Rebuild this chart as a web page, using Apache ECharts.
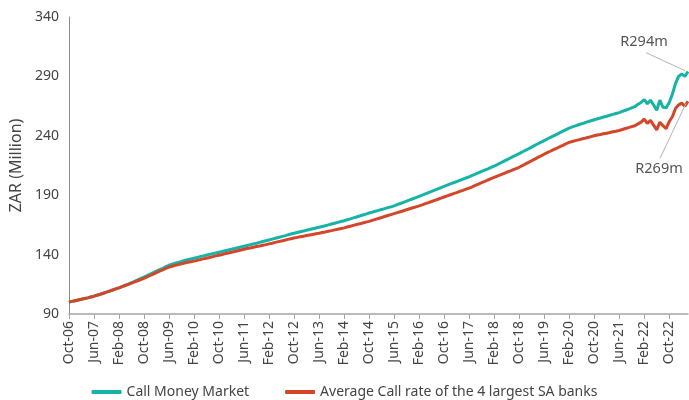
<!DOCTYPE html>
<html>
<head>
<meta charset="utf-8">
<script src="https://cdn.jsdelivr.net/npm/echarts@6/dist/echarts.min.js"></script>
<style>
  html, body { margin: 0; padding: 0; background: #fff; }
  #chart { width: 689px; height: 400px; }
</style>
</head>
<body>
<div id="chart"></div>
<script>
// monthly, Oct-06 .. Apr-23
const startYear = 2006
const startMonth = 9 // October (0-based)
const monthCount = 199
const monthNames = ['Jan', 'Feb', 'Mar', 'Apr', 'May', 'Jun', 'Jul', 'Aug', 'Sep', 'Oct', 'Nov', 'Dec']

const yTicks = [90, 140, 190, 240, 290, 340]

const callMoneyMarket = [
  100, 100.6, 101.2, 101.8, 102.4, 103.0, 103.6, 104.3,
  105, 105.8, 106.6, 107.5, 108.4, 109.3, 110.2, 111.1,
  112, 113.0, 114.1, 115.2, 116.3, 117.5, 118.7, 119.9,
  121, 122.3, 123.6, 124.9, 126.1, 127.3, 128.5, 129.8,
  131, 131.9, 132.7, 133.5, 134.3, 135.0, 135.7, 136.4,
  137, 137.6, 138.3, 138.9, 139.6, 140.2, 140.8, 141.4,
  142, 142.6, 143.3, 143.9, 144.5, 145.1, 145.8, 146.4,
  147, 147.7, 148.3, 149.0, 149.6, 150.3, 151.0, 151.6,
  152.3, 153.0, 153.7, 154.4, 155.1, 155.8, 156.6, 157.3,
  158, 158.6, 159.2, 159.8, 160.5, 161.1, 161.8, 162.4,
  163, 163.7, 164.3, 165.0, 165.7, 166.4, 167.1, 167.8,
  168.5, 169.3, 170.1, 170.9, 171.7, 172.5, 173.3, 174.1,
  175, 175.7, 176.5, 177.2, 178.0, 178.7, 179.5, 180.2,
  181, 182.0, 183.0, 184.0, 185.0, 186.0, 187.0, 188.0,
  189, 190.0, 191.1, 192.2, 193.2, 194.3, 195.4, 196.4,
  197.5, 198.5, 199.5, 200.5, 201.5, 202.5, 203.5, 204.5,
  205.5, 206.6, 207.7, 208.9, 210.0, 211.1, 212.2, 213.4,
  214.5, 215.8, 217.1, 218.4, 219.7, 221.1, 222.4, 223.7,
  225, 226.4, 227.8, 229.1, 230.5, 231.9, 233.3, 234.6,
  236, 237.3, 238.6, 239.9, 241.2, 242.6, 243.9, 245.2,
  246.5, 247.5, 248.4, 249.3, 250.1, 251.0, 251.9, 252.7,
  253.5, 254.3, 255.0, 255.8, 256.5, 257.3, 258.0, 258.8,
  259.5, 260.5, 261.5, 262.5, 263.5,
  264.5, 266.5, 268, 270.5, 267, 270, 266, 261.5, 270, 264, 263.5, 268, 275, 284, 290, 292, 290, 294
]

const bigFourAverage = [
  100, 100.6, 101.2, 101.8, 102.4, 103.0, 103.6, 104.3,
  105, 105.8, 106.6, 107.5, 108.4, 109.3, 110.2, 111.1,
  112, 113.0, 114.0, 115.0, 116.0, 117.0, 118.0, 119.0,
  120, 121.2, 122.4, 123.6, 124.8, 126.0, 127.1, 128.3,
  129.5, 130.2, 130.9, 131.6, 132.3, 132.9, 133.5, 134.0,
  134.5, 135.1, 135.8, 136.4, 137.0, 137.6, 138.3, 138.9,
  139.5, 140.1, 140.8, 141.4, 142.0, 142.6, 143.3, 143.9,
  144.5, 145.1, 145.6, 146.2, 146.8, 147.3, 147.9, 148.4,
  149, 149.6, 150.3, 150.9, 151.5, 152.1, 152.8, 153.4,
  154, 154.5, 155.0, 155.5, 156.0, 156.5, 157.0, 157.5,
  158, 158.6, 159.1, 159.7, 160.2, 160.8, 161.4, 161.9,
  162.5, 163.2, 163.9, 164.6, 165.3, 165.9, 166.6, 167.3,
  168, 168.8, 169.6, 170.4, 171.2, 172.1, 172.9, 173.7,
  174.5, 175.3, 176.1, 176.9, 177.8, 178.6, 179.4, 180.2,
  181, 181.9, 182.9, 183.8, 184.7, 185.7, 186.6, 187.6,
  188.5, 189.4, 190.4, 191.3, 192.2, 193.2, 194.1, 195.1,
  196, 197.1, 198.3, 199.4, 200.5, 201.6, 202.8, 203.9,
  205, 206.1, 207.1, 208.2, 209.3, 210.3, 211.4, 212.4,
  213.5, 214.9, 216.3, 217.6, 219.0, 220.4, 221.8, 223.1,
  224.5, 225.8, 227.0, 228.3, 229.5, 230.8, 232.0, 233.3,
  234.5, 235.2, 235.9, 236.6, 237.3, 237.9, 238.6, 239.3,
  240, 240.6, 241.1, 241.7, 242.2, 242.8, 243.4, 243.9,
  244.5, 245.3, 246.1, 246.9, 247.7,
  248.5, 250, 251.5, 254, 250.5, 253, 249, 245, 251.5, 248.5, 246, 252, 256, 263, 266, 267.5, 265, 269
]

const endLabels = ['R294m', 'R269m']

const categories = []
for (let i = 0; i < monthCount; i++) {
  const m = (startMonth + i) % 12
  const y = startYear + Math.floor((startMonth + i) / 12)
  categories.push(monthNames[m] + '-' + String(y % 100).padStart(2, '0'))
}

const FONT = 'Noto Sans'
const TEAL = '#16b3a7'
const RED = '#d4462a'

const chart = echarts.init(document.getElementById('chart'))

chart.setOption({
  animation: false,
  textStyle: { fontFamily: FONT },
  grid: { left: 66, right: 1, top: 17, bottom: 86, containLabel: false },
  legend: {
    bottom: 1,
    left: 'center',
    padding: [0, 5],
    itemWidth: 30,
    itemHeight: 4,
    itemGap: 36,
    icon: 'roundRect',
    textStyle: { fontFamily: FONT, fontSize: 14, color: '#444' },
    data: ['Call Money Market', 'Average Call rate of the 4 largest SA banks']
  },
  xAxis: {
    type: 'category',
    data: categories,
    boundaryGap: false,
    axisLine: { lineStyle: { color: '#a6a6a6', width: 1.5 } },
    axisTick: { show: true, interval: 7, length: 5, lineStyle: { color: '#a6a6a6' } },
    axisLabel: {
      interval: 7,
      rotate: 90,
      color: '#444',
      fontSize: 14,
      fontFamily: FONT,
      margin: 7
    }
  },
  yAxis: {
    type: 'value',
    min: yTicks[0],
    max: yTicks[yTicks.length - 1],
    interval: 50,
    name: 'ZAR (Million)',
    nameLocation: 'middle',
    nameGap: 41,
    nameTextStyle: { color: '#444', fontSize: 16, fontFamily: FONT },
    axisLine: { show: true, lineStyle: { color: '#8c8c8c' } },
    axisTick: { show: false },
    splitLine: { show: false },
    axisLabel: { color: '#444', fontSize: 14, fontFamily: FONT, margin: 10 }
  },
  series: [
    {
      name: 'Call Money Market',
      type: 'line',
      data: callMoneyMarket,
      showSymbol: false,
      symbol: 'none',
      itemStyle: { color: TEAL },
      lineStyle: { color: TEAL, width: 3 },
      z: 3
    },
    {
      name: 'Average Call rate of the 4 largest SA banks',
      type: 'line',
      data: bigFourAverage,
      showSymbol: false,
      symbol: 'none',
      itemStyle: { color: RED },
      lineStyle: { color: RED, width: 3 },
      z: 4
    }
  ]
})

// leader lines + end value labels, anchored to the last data points
const last = monthCount - 1
const p0 = chart.convertToPixel({ seriesIndex: 0 }, [last, callMoneyMarket[last]])
const p1 = chart.convertToPixel({ seriesIndex: 1 }, [last, bigFourAverage[last]])
const leader = { stroke: '#b3b3b3', lineWidth: 1 }
const labelFont = '14.5px "' + FONT + '"'
chart.setOption({
  graphic: [
    { type: 'line', shape: { x1: p0[0] - 42, y1: p0[1] - 19, x2: p0[0] - 3, y2: p0[1] - 1 }, style: leader, z: 10 },
    { type: 'text', x: p0[0] - 44, y: p0[1] - 30, style: { text: endLabels[0], fill: '#555', font: labelFont, textAlign: 'center', textVerticalAlign: 'middle' }, z: 10 },
    { type: 'line', shape: { x1: p1[0] - 28, y1: p1[1] + 57, x2: p1[0] - 2, y2: p1[1] + 2 }, style: leader, z: 10 },
    { type: 'text', x: p1[0] - 29, y: p1[1] + 68, style: { text: endLabels[1], fill: '#555', font: labelFont, textAlign: 'center', textVerticalAlign: 'middle' }, z: 10 }
  ]
})
</script>
</body>
</html>
